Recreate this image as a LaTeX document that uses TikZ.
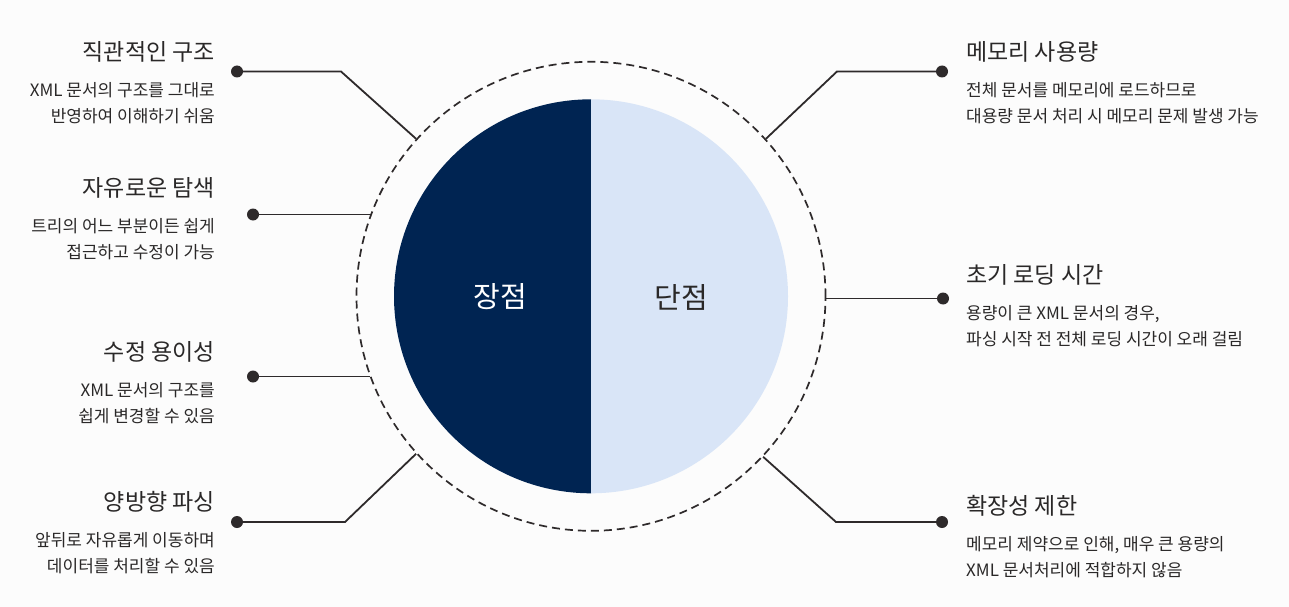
\documentclass[tikz,border=0pt]{standalone}
\usepackage{fontspec}
\setmainfont{Noto Sans CJK KR}
\usepackage{tikz}
\usetikzlibrary{positioning}
\definecolor{proclr}{RGB}{0,36,82}
\definecolor{conclr}{RGB}{217,229,247}
\definecolor{txtclr}{RGB}{42,40,40}
\definecolor{lineclr}{RGB}{46,42,43}
\definecolor{bgclr}{RGB}{252,252,252}
\tikzset{
    knob/.style={circle,fill=lineclr,inner sep=0pt,minimum size=12pt},
    link/.style={draw=lineclr,line width=1.8pt},
    ringline/.style={circle,draw=lineclr,line width=1.7pt,dash pattern=on 8pt off 5pt,minimum size=469pt,inner sep=0pt},
    ttl/.style={font=\fontsize{23}{28}\selectfont,text=txtclr,inner sep=0pt},
    descl/.style={font=\fontsize{17}{26}\selectfont,text=txtclr,inner sep=0pt,align=right},
    descr/.style={descl,align=left},
    half/.style={font=\fontsize{29}{34}\selectfont,inner sep=0pt},
}

\begin{document}
\begin{tikzpicture}[x=1pt,y=-1pt]
\fill[bgclr] (0,0) rectangle (1289,607);
\useasboundingbox (0,0) rectangle (1289,607);
\coordinate (ctr) at (591,296.3);
\fill[proclr] (ctr) -- ++(0,-197) arc[start angle=270,end angle=90,radius=197] -- cycle;
\fill[conclr] (ctr) -- ++(0,-197) arc[start angle=-90,end angle=90,radius=197] -- cycle;
\node[ringline] (ring) at (ctr) {};
\node[half,text=white] (pro) at (500,297) {장점};
\node[half,text=txtclr] (con) at (681,297) {단점};

\node[ttl,anchor=east] (t1) at (215,52) {직관적인 구조};
\node[descl,below left=20pt and 0pt of t1.south east] (s1) {XML 문서의 구조를 그대로\\반영하여 이해하기 쉬움};
\node[ttl,anchor=east] (t2) at (215,188) {자유로운 탐색};
\node[descl,below left=20pt and 0pt of t2.south east] (s2) {트리의 어느 부분이든 쉽게\\접근하고 수정이 가능};
\node[ttl,anchor=east] (t3) at (215,352) {수정 용이성};
\node[descl,below left=20pt and 0pt of t3.south east] (s3) {XML 문서의 구조를\\쉽게 변경할 수 있음};
\node[ttl,anchor=east] (t4) at (215,502) {양방향 파싱};
\node[descl,below left=20pt and 0pt of t4.south east] (s4) {앞뒤로 자유롭게 이동하며\\데이터를 처리할 수 있음};

\node[ttl,anchor=west] (t5) at (966,52) {메모리 사용량};
\node[descr,below right=20pt and 0pt of t5.south west] (s5) {전체 문서를 메모리에 로드하므로\\대용량 문서 처리 시 메모리 문제 발생 가능};
\node[ttl,anchor=west] (t6) at (966,275) {초기 로딩 시간};
\node[descr,below right=20pt and 0pt of t6.south west] (s6) {용량이 큰 XML 문서의 경우,\\파싱 시작 전 전체 로딩 시간이 오래 걸림};
\node[ttl,anchor=west] (t7) at (966,506) {확장성 제한};
\node[descr,below right=20pt and 0pt of t7.south west] (s7) {메모리 제약으로 인해, 매우 큰 용량의\\XML 문서처리에 적합하지 않음};

\node[knob] (k1) at (237,71.5) {};
\node[knob] (k2) at (253,214.5) {};
\node[knob] (k3) at (253,376.5) {};
\node[knob] (k4) at (237,522) {};
\node[knob] (k5) at (942,71.5) {};
\node[knob] (k6) at (943,298.5) {};
\node[knob] (k7) at (942,522) {};
\coordinate (b1) at (341,71.5);
\coordinate (b4) at (345,522);
\coordinate (b5) at (837,71.5);
\coordinate (b7) at (836,522);

\draw[link] (k1.center) -- (b1) -- (ring.138.3);
\draw[link] (k2.center) -- (k2 -| ring.159.6);
\draw[link] (k3.center) -- (k3 -| ring.200);
\draw[link] (k4.center) -- (b4) -- (ring.222.2);
\draw[link] (k5.center) -- (b5) -- (ring.42.3);
\draw[link] (k6.center) -- (k6 -| ring.-0.6);
\draw[link] (k7.center) -- (b7) -- (ring.317.6);
\end{tikzpicture}
\end{document}
